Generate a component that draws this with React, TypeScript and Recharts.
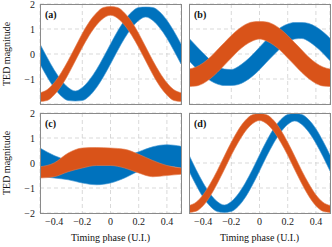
import { Area, CartesianGrid, ComposedChart, XAxis, YAxis } from "recharts";

// timing phase samples (U.I.)
const PHASE = [-0.5, -0.45, -0.4, -0.35, -0.3, -0.25, -0.2, -0.15, -0.1, -0.05, 0, 0.05, 0.1, 0.15, 0.2, 0.25, 0.3, 0.35, 0.4, 0.45, 0.5];
const PHASE_C = [-0.5, -0.4, -0.3, -0.2, -0.1, 0, 0.1, 0.2, 0.3, 0.4, 0.5];

const X_TICKS = [-0.4, -0.2, 0, 0.2, 0.4];
const Y_TICKS = [-2, -1, 0, 1, 2];

// (a) band edges
const A_BLUE_LO = [-0.4, -0.91, -1.35, -1.68, -1.86, -1.88, -1.86, -1.68, -1.35, -0.91, -0.4, 0.13, 0.63, 1.04, 1.34, 1.48, 1.34, 1.04, 0.63, 0.13, -0.4];
const A_BLUE_HI = [0.4, -0.13, -0.63, -1.04, -1.34, -1.48, -1.34, -1.04, -0.63, -0.13, 0.4, 0.91, 1.35, 1.68, 1.86, 1.88, 1.86, 1.68, 1.35, 0.91, 0.4];
const A_ORANGE_LO = [-1.9, -1.86, -1.64, -1.29, -0.82, -0.28, 0.26, 0.75, 1.15, 1.43, 1.55, 1.43, 1.15, 0.75, 0.26, -0.28, -0.82, -1.29, -1.64, -1.86, -1.9];
const A_ORANGE_HI = [-1.55, -1.43, -1.15, -0.75, -0.26, 0.28, 0.82, 1.29, 1.64, 1.86, 1.9, 1.86, 1.64, 1.29, 0.82, 0.28, -0.26, -0.75, -1.15, -1.43, -1.55];

// (b)
const B_BLUE_LO = [-0.27, -0.57, -0.84, -1.06, -1.2, -1.26, -1.26, -1.22, -1.09, -0.89, -0.63, -0.33, -0.04, 0.24, 0.46, 0.6, 0.62, 0.5, 0.29, 0.03, -0.27];
const B_BLUE_HI = [0.63, 0.33, 0.04, -0.24, -0.46, -0.6, -0.62, -0.5, -0.29, -0.03, 0.27, 0.57, 0.84, 1.06, 1.2, 1.26, 1.26, 1.22, 1.09, 0.89, 0.63];
const B_ORANGE_LO = [-1.3, -1.28, -1.18, -0.99, -0.74, -0.45, -0.16, 0.13, 0.36, 0.52, 0.6, 0.52, 0.36, 0.13, -0.16, -0.45, -0.74, -0.99, -1.18, -1.28, -1.3];
const B_ORANGE_HI = [-0.6, -0.52, -0.36, -0.13, 0.16, 0.45, 0.74, 0.99, 1.18, 1.28, 1.3, 1.28, 1.18, 0.99, 0.74, 0.45, 0.16, -0.13, -0.36, -0.52, -0.6];

// (c)
const C_BLUE_LO = [-0.53, -0.6, -0.67, -0.8, -0.87, -0.8, -0.6, -0.33, -0.2, -0.13, -0.2];
const C_BLUE_HI = [0.6, 0.3, 0.1, 0.0, -0.05, 0.05, 0.25, 0.45, 0.65, 0.73, 0.67];
const C_ORANGE_LO = [-0.6, -0.55, -0.35, -0.2, -0.1, -0.1, -0.2, -0.4, -0.55, -0.5, -0.45];
const C_ORANGE_HI = [-0.15, 0.0, 0.4, 0.6, 0.62, 0.6, 0.55, 0.35, 0.1, -0.1, -0.2];

// (d)
const D_BLUE_LO = [-0.32, -0.88, -1.37, -1.73, -1.94, -1.98, -1.94, -1.73, -1.37, -0.88, -0.32, 0.26, 0.79, 1.23, 1.54, 1.68, 1.54, 1.23, 0.79, 0.26, -0.32];
const D_BLUE_HI = [0.32, -0.26, -0.79, -1.23, -1.54, -1.68, -1.54, -1.23, -0.79, -0.26, 0.32, 0.88, 1.37, 1.73, 1.94, 1.98, 1.94, 1.73, 1.37, 0.88, 0.32];
const D_ORANGE_LO = [-1.98, -1.93, -1.71, -1.33, -0.83, -0.27, 0.31, 0.83, 1.27, 1.57, 1.7, 1.57, 1.27, 0.83, 0.31, -0.27, -0.83, -1.33, -1.71, -1.93, -1.98];
const D_ORANGE_HI = [-1.7, -1.57, -1.27, -0.83, -0.31, 0.27, 0.83, 1.33, 1.71, 1.93, 1.98, 1.93, 1.71, 1.33, 0.83, 0.27, -0.31, -0.83, -1.27, -1.57, -1.7];

const BLUE = "#0072BD";
const ORANGE = "#D95319";
const FONT = "'Liberation Serif', 'DejaVu Serif', serif";

const PW = 141;
const PH = 100;
const YW = 40;
const MT = 10;
const XH = 22;

function rows(xs: number[], bl: number[], bh: number[], ol: number[], oh: number[]) {
  return xs.map((x, i) => ({ x, blue: [bl[i], bh[i]], orange: [ol[i], oh[i]] }));
}

const fmt = (v: number) => (v < 0 ? "\u2212" + Math.abs(v) : String(v));

const PANELS = [
  { id: "a", left: 40, top: 4, showX: false, showY: true, data: rows(PHASE, A_BLUE_LO, A_BLUE_HI, A_ORANGE_LO, A_ORANGE_HI) },
  { id: "b", left: 189, top: 4, showX: false, showY: false, data: rows(PHASE, B_BLUE_LO, B_BLUE_HI, B_ORANGE_LO, B_ORANGE_HI) },
  { id: "c", left: 40, top: 113, showX: true, showY: true, data: rows(PHASE_C, C_BLUE_LO, C_BLUE_HI, C_ORANGE_LO, C_ORANGE_HI) },
  { id: "d", left: 189, top: 113, showX: true, showY: false, data: rows(PHASE, D_BLUE_LO, D_BLUE_HI, D_ORANGE_LO, D_ORANGE_HI) },
];

const tickStyle = { fontSize: 10, fill: "#222", fontFamily: FONT };

function Panel({ p }: { p: (typeof PANELS)[number] }) {
  const yw = p.showY ? YW : 0;
  return (
    <div style={{ position: "absolute", left: p.left - yw, top: p.top - MT }}>
      <ComposedChart
        width={yw + PW + 8}
        height={MT + PH + (p.showX ? XH : 0)}
        data={p.data}
        margin={{ top: MT, right: 8, bottom: 0, left: 0 }}
      >
        <CartesianGrid stroke="#cfcfcf" strokeDasharray="4 3" strokeWidth={0.8} />
        <XAxis
          dataKey="x"
          type="number"
          domain={[-0.5, 0.5]}
          ticks={X_TICKS}
          tickFormatter={fmt}
          hide={!p.showX}
          height={XH}
          axisLine={false}
          tickLine={false}
          tickSize={4}
          tickMargin={1}
          tick={tickStyle}
          allowDataOverflow
        />
        <YAxis
          type="number"
          domain={[-2, 2]}
          ticks={Y_TICKS}
          tickFormatter={fmt}
          hide={!p.showY}
          width={YW}
          axisLine={false}
          tickLine={false}
          tickSize={3}
          tickMargin={2}
          tick={tickStyle}
          allowDataOverflow
        />
        <Area type="monotone" dataKey="blue" fill={BLUE} fillOpacity={1} stroke="#3d93d1" strokeWidth={0.6} dot={false} activeDot={false} isAnimationActive={false} />
        <Area type="monotone" dataKey="orange" fill={ORANGE} fillOpacity={1} stroke="#e3784a" strokeWidth={0.6} dot={false} activeDot={false} isAnimationActive={false} />
      </ComposedChart>
    </div>
  );
}

export default function App() {
  return (
    <div style={{ position: "absolute", left: 0, top: 0, width: 332, height: 247, background: "#fff", fontFamily: FONT }}>
      {PANELS.map((p) => (
        <Panel key={p.id} p={p} />
      ))}
      <svg width={332} height={247} style={{ position: "absolute", left: 0, top: 0, pointerEvents: "none" }}>
        {PANELS.map((p) => (
          <g key={p.id}>
            <rect x={p.left + 0.5} y={p.top + 0.5} width={PW} height={PH} fill="none" stroke="#8a8a8a" strokeWidth={1} />
            <text x={p.left + 5} y={p.top + 14} fontSize={10} fontWeight="bold" fontFamily={FONT} fill="#111">
              ({p.id})
            </text>
          </g>
        ))}
        <text transform="translate(9.5,54) rotate(-90)" textAnchor="middle" fontSize={10} fontFamily={FONT} fill="#111">
          TED magnitude
        </text>
        <text transform="translate(9.5,163) rotate(-90)" textAnchor="middle" fontSize={10} fontFamily={FONT} fill="#111">
          TED magnitude
        </text>
        <text x={40 + PW / 2} y={241} textAnchor="middle" fontSize={10} fontFamily={FONT} fill="#111">
          Timing phase (U.I.)
        </text>
        <text x={189 + PW / 2} y={241} textAnchor="middle" fontSize={10} fontFamily={FONT} fill="#111">
          Timing phase (U.I.)
        </text>
      </svg>
    </div>
  );
}
